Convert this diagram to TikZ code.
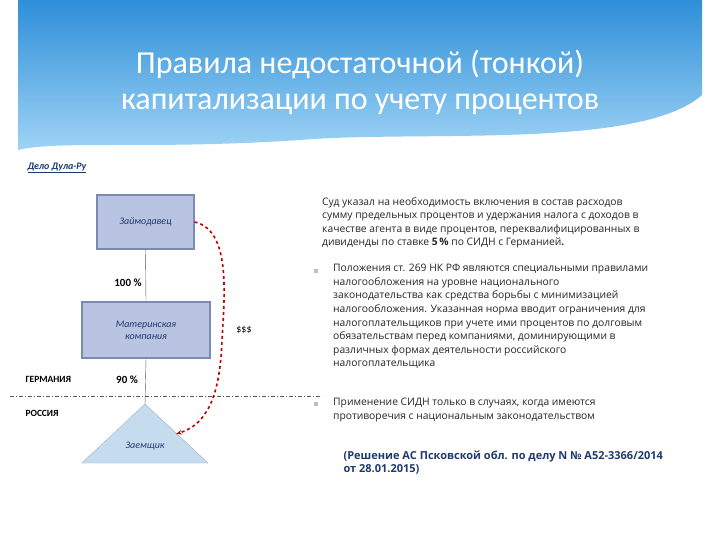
\documentclass[tikz,border=0pt]{standalone}
\usepackage{fontspec}
\setmainfont{Carlito}
\newfontfamily\bodyfont{Open Sans}
\usetikzlibrary{arrows.meta}
\definecolor{boxfill}{HTML}{B9C3E2}
\definecolor{boxdraw}{HTML}{7A8AB0}
\definecolor{trifill}{HTML}{C5DCEF}
\definecolor{txtblue}{HTML}{1F3A6E}
\definecolor{hdrA}{HTML}{2E8FD8}
\definecolor{hdrB}{HTML}{9FD3F5}
\tikzset{
 ent/.style={draw=boxdraw,line width=1.2pt,fill=boxfill,font=\itshape\fontsize{10}{12}\selectfont,text=txtblue,align=center},
 lbl/.style={font=\bfseries\fontsize{11}{13}\selectfont},
 body/.style={font=\bodyfont\fontsize{10.3}{13.6}\selectfont,align=left,anchor=north west,inner sep=0pt,text=black!85},
 bul/.style={fill=gray!50,minimum size=4pt,inner sep=0pt}
}
\begin{document}
\begin{tikzpicture}[x=1pt,y=-1pt]
\useasboundingbox (0,0) rectangle (720,540);
\fill[white] (0,0) rectangle (720,540);
% header
\shade[top color=hdrA,bottom color=hdrB] (18,0) -- (702,0) -- (702,95) .. controls (640,150) and (420,130) .. (300,140) .. controls (150,150) and (60,140) .. (18,150) -- cycle;
\node[text=white,font=\fontsize{32}{36}\selectfont,align=center] (title) at (360,82) {Правила недостаточной (тонкой)\\капитализации по учету процентов};
\node[font=\bfseries\itshape\fontsize{10}{12}\selectfont,text=txtblue,anchor=west] (case) at (24,168) {\underline{Дело Дула-Ру}};
% diagram
\node[ent,minimum width=97pt,minimum height=54pt] (lender) at (145.5,222) {Займодавец};
\node[ent,minimum width=128pt,minimum height=56pt] (parent) at (146,330) {Материнская\\компания};
\draw[boxdraw!70!white,fill=trifill] (145,404) -- (208,463) -- (82,463) -- cycle;
\coordinate (apex) at (145,404);
\node[font=\itshape\fontsize{10}{12}\selectfont,text=txtblue] (borrower) at (145,446) {Заемщик};
\draw[gray!70!black] (lender.south) -- (parent.north);
\draw[gray!70!black] (parent.south) -- (apex);
\draw[gray!70!black,dashed,dash pattern=on 4pt off 2pt on 1pt off 2pt] (10,396) coordinate (dl) -- (322,396) coordinate (dr);
\node[lbl] (p100) at (128,283) {100 \%};
\node[lbl] (p90) at (127,380) {90 \%};
\node[font=\bfseries\fontsize{9.5}{11}\selectfont,anchor=west] (de) at (22,379) {ГЕРМАНИЯ};
\node[font=\bfseries\fontsize{9.5}{11}\selectfont,anchor=west] (ru) at (22,413) {РОССИЯ};
\node[font=\fontsize{10}{12}\selectfont] (usd) at (244,330) {\$\$\$};
\draw[red!75!black,line width=1.6pt,dashed,-{Stealth[length=6pt]}] (lender.east) .. controls (230,230) and (225,290) .. (222,340) .. controls (220,400) and (205,425) .. (176,434);
% text
\node[body] (t1) at (322,197) {Суд указал на необходимость включения в состав расходов\\сумму предельных процентов и удержания налога с доходов в\\качестве агента в виде процентов, переквалифицированных в\\дивиденды по ставке \textbf{5\,\%} по СИДН с Германией\textbf{.}};
\node[body] (t2) at (333,264) {Положения ст. 269 НК РФ являются специальными правилами\\налогообложения на уровне национального\\законодательства как средства борьбы с минимизацией\\налогообложения. Указанная норма вводит ограничения для\\налогоплательщиков при учете ими процентов по долговым\\обязательствам перед компаниями, доминирующими в\\различных формах деятельности российского\\налогоплательщика};
\node[body] (t3) at (333,398) {Применение СИДН только в случаях, когда имеются\\противоречия с национальным законодательством};
\node[bul] (b1) at (316,271) {};
\node[bul] (b2) at (316,404) {};
\node[font=\bodyfont\bfseries\fontsize{11}{13.5}\selectfont,text=txtblue,align=left,anchor=north west] (dec) at (340,447) {(Решение АС Псковской обл. по делу N № А52-3366/2014\\ от 28.01.2015)};
\end{tikzpicture}
\end{document}
